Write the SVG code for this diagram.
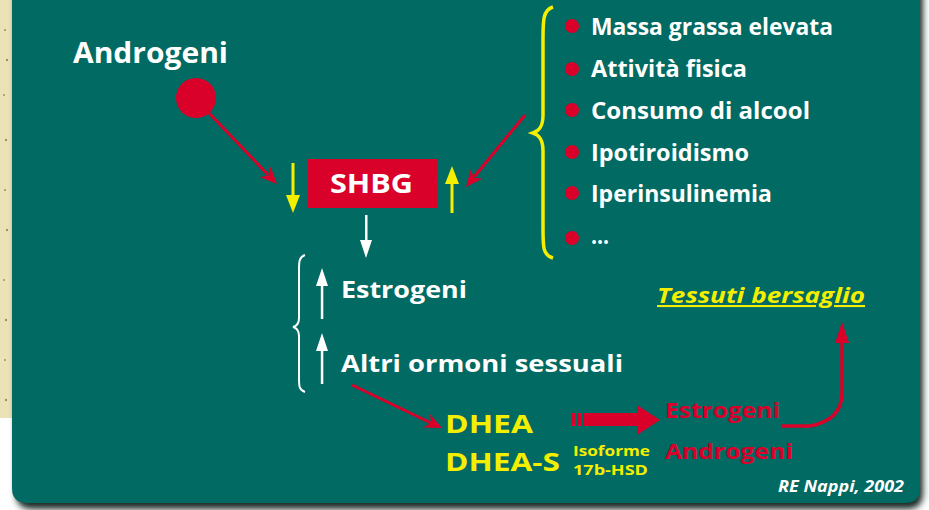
<svg xmlns="http://www.w3.org/2000/svg" width="929" height="510" viewBox="0 0 929 510">
<defs>
<style>
.t{font-family:"Open Sans",Lato,"DejaVu Sans",sans-serif;font-weight:bold}
.w{fill:#ffffff}
.y{fill:#f4ef00}
.r{fill:#d9002a}
.list{font-size:23px}
</style>
<path id="head" d="M0,0 L-17,-7.5 L-12,0 L-17,7.5 Z" fill="#d9002a"/>
<filter id="sh" x="-5%" y="-5%" width="110%" height="110%"><feGaussianBlur stdDeviation="3"/></filter>
</defs>
<rect x="0" y="0" width="929" height="510" fill="#ffffff"/>
<rect x="0" y="0" width="14" height="418" fill="#ece2b8"/>
<g fill="#6b5a3a" opacity="0.6">
<circle cx="5" cy="30" r="1"/><circle cx="7" cy="60" r="1.2"/><circle cx="4" cy="95" r="1"/><circle cx="6" cy="140" r="1.2"/><circle cx="5" cy="190" r="1"/><circle cx="7" cy="230" r="1.2"/><circle cx="4" cy="280" r="1"/><circle cx="6" cy="320" r="1.2"/><circle cx="5" cy="360" r="1"/><circle cx="6" cy="400" r="1.2"/>
</g>
<path d="M14,-20 H921 V490 Q921,506 905,506 H30 Q14,506 14,490 Z" fill="#1a2a28" filter="url(#sh)" transform="translate(2,3)"/>
<path d="M12,-20 H920 V488 Q920,503 905,503 H27 Q12,503 12,488 Z" fill="#016a62"/>

<g id="androgeni">
<text class="t w" x="73" y="63" font-size="28" textLength="155" lengthAdjust="spacingAndGlyphs">Androgeni</text>
<circle cx="196" cy="98" r="20" fill="#d9002a"/>
</g>
<g id="shbg">
<rect x="308" y="159" width="129" height="49" fill="#d9002a"/>
<text class="t w" x="330" y="193" font-size="27" textLength="83" lengthAdjust="spacingAndGlyphs">SHBG</text>
</g>
<g id="fattori">
<path d="M553,7 C543,10 543,20 543,40 L543,115 C543,127 539,131 533,133 C539,135 543,139 543,151 L543,228 C543,248 543,255 553,258" fill="none" stroke="#f4ef00" stroke-width="3.5"/>
<g fill="#d9002a">
<circle cx="572" cy="26" r="7"/><circle cx="572" cy="69" r="7"/><circle cx="572" cy="110" r="7"/><circle cx="572" cy="152" r="7"/><circle cx="572" cy="193" r="7"/><circle cx="572" cy="238" r="7"/>
</g>
<text class="t w list" x="591" y="35" textLength="242" lengthAdjust="spacingAndGlyphs">Massa grassa elevata</text>
<text class="t w list" x="591" y="77" textLength="156" lengthAdjust="spacingAndGlyphs">Attività fisica</text>
<text class="t w list" x="591" y="119" textLength="219" lengthAdjust="spacingAndGlyphs">Consumo di alcool</text>
<text class="t w list" x="591" y="161" textLength="158" lengthAdjust="spacingAndGlyphs">Ipotiroidismo</text>
<text class="t w list" x="591" y="202" textLength="181" lengthAdjust="spacingAndGlyphs">Iperinsulinemia</text>
<text class="t w list" x="591" y="244" textLength="18" lengthAdjust="spacingAndGlyphs">...</text>
</g>
<g id="ormoni">
<path d="M305,255 C299,257 299,262 299,270 L299,318 C299,323 297,326 293,327 C297,328 299,331 299,336 L299,378 C299,386 299,390 305,392" fill="none" stroke="#ffffff" stroke-width="2"/>
<text class="t w" x="341" y="298" font-size="23" textLength="126" lengthAdjust="spacingAndGlyphs">Estrogeni</text>
<text class="t w" x="341" y="372" font-size="23" textLength="282" lengthAdjust="spacingAndGlyphs">Altri ormoni sessuali</text>
</g>
<g id="dhea">
<text class="t y" x="445" y="433" font-size="25" textLength="88" lengthAdjust="spacingAndGlyphs">DHEA</text>
<text class="t y" x="445" y="471" font-size="25" textLength="115" lengthAdjust="spacingAndGlyphs">DHEA-S</text>
</g>
<g id="isoforme">
<text class="t y" x="573" y="456" font-size="14" textLength="77" lengthAdjust="spacingAndGlyphs">Isoforme</text>
<text class="t y" x="573" y="475" font-size="14" textLength="75" lengthAdjust="spacingAndGlyphs">17b-HSD</text>
</g>
<g id="prodotti">
<text class="t r" x="665" y="418" font-size="22" textLength="115" lengthAdjust="spacingAndGlyphs">Estrogeni</text>
<text class="t r" x="665" y="459" font-size="22" textLength="128" lengthAdjust="spacingAndGlyphs">Androgeni</text>
</g>
<g id="tessuti">
<text class="t y" x="657" y="303" font-size="21" font-style="italic" text-decoration="underline" textLength="208" lengthAdjust="spacingAndGlyphs">Tessuti bersaglio</text>
</g>
<g id="credito">
<text class="t w" x="778" y="492" font-size="16" font-style="italic" textLength="126" lengthAdjust="spacingAndGlyphs">RE Nappi, 2002</text>
</g>

<g id="connectors">
<line x1="208" y1="112" x2="268" y2="174.7" stroke="#d9002a" stroke-width="3"/>
<use href="#head" transform="translate(277,184) rotate(45.8)"/>
<line x1="525" y1="115" x2="474" y2="177" stroke="#d9002a" stroke-width="3"/>
<use href="#head" transform="translate(466,187) rotate(129.3)"/>
<line x1="352" y1="385" x2="431" y2="423" stroke="#d9002a" stroke-width="3"/>
<use href="#head" transform="translate(442,428) rotate(25.5)"/>
<path d="M782,426 H810 Q842,420 842,393 V340" fill="none" stroke="#d9002a" stroke-width="3.5"/>
<path d="M835,343 L842,322 L849,343 Z" fill="#d9002a"/>
<g fill="#f4ef00">
<rect x="291.5" y="163" width="3" height="34"/><path d="M286,195 L293,213 L300,195 Z"/>
<rect x="450.5" y="182" width="3" height="31"/><path d="M445,184 L452,166 L459,184 Z"/>
</g>
<g fill="#ffffff">
<rect x="365" y="215" width="2.5" height="28"/><path d="M360,240 L366,258 L372,240 Z"/>
<rect x="320.8" y="283" width="2.5" height="36"/><path d="M316,286 L322,268 L328,286 Z"/>
<rect x="320.8" y="348" width="2.5" height="36"/><path d="M316,351 L322,333 L328,351 Z"/>
</g>
<g fill="#d9002a">
<rect x="572" y="413" width="3" height="13"/>
<rect x="577" y="413" width="4" height="13"/>
<rect x="583" y="413" width="55" height="13"/>
<path d="M637,405 L660,420 L637,435 Z"/>
</g>
</g>
</svg>
